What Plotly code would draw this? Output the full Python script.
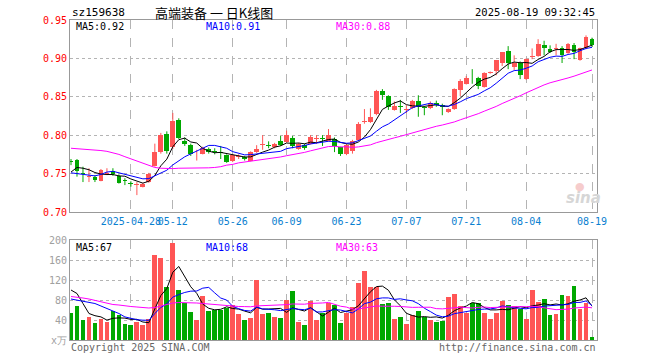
import plotly.graph_objects as go
import pandas as pd

# ---------------- data ----------------
dates = [
    "2025-04-14", "2025-04-15", "2025-04-16", "2025-04-17", "2025-04-18",
    "2025-04-21", "2025-04-22", "2025-04-23", "2025-04-24", "2025-04-25",
    "2025-04-28", "2025-04-29", "2025-04-30",
    "2025-05-06", "2025-05-07", "2025-05-08", "2025-05-09",
    "2025-05-12", "2025-05-13", "2025-05-14", "2025-05-15", "2025-05-16",
    "2025-05-19", "2025-05-20", "2025-05-21", "2025-05-22", "2025-05-23",
    "2025-05-26", "2025-05-27", "2025-05-28", "2025-05-29", "2025-05-30",
    "2025-06-03", "2025-06-04", "2025-06-05", "2025-06-06",
    "2025-06-09", "2025-06-10", "2025-06-11", "2025-06-12", "2025-06-13",
    "2025-06-16", "2025-06-17", "2025-06-18", "2025-06-19", "2025-06-20",
    "2025-06-23", "2025-06-24", "2025-06-25", "2025-06-26", "2025-06-27",
    "2025-06-30", "2025-07-01", "2025-07-02", "2025-07-03", "2025-07-04",
    "2025-07-07", "2025-07-08", "2025-07-09", "2025-07-10", "2025-07-11",
    "2025-07-14", "2025-07-15", "2025-07-16", "2025-07-17", "2025-07-18",
    "2025-07-21", "2025-07-22", "2025-07-23", "2025-07-24", "2025-07-25",
    "2025-07-28", "2025-07-29", "2025-07-30", "2025-07-31", "2025-08-01",
    "2025-08-04", "2025-08-05", "2025-08-06", "2025-08-07", "2025-08-08",
    "2025-08-11", "2025-08-12", "2025-08-13", "2025-08-14", "2025-08-15",
    "2025-08-18", "2025-08-19",
]

opens = [
    0.766, 0.768, 0.751, 0.745, 0.746, 0.740, 0.750, 0.754, 0.747, 0.741,
    0.738, 0.735, 0.733, 0.739, 0.760, 0.778, 0.802, 0.784, 0.820, 0.793,
    0.787, 0.771, 0.776, 0.782, 0.779, 0.778, 0.774, 0.767, 0.771, 0.772,
    0.767, 0.778, 0.787, 0.787, 0.784, 0.792, 0.791, 0.797, 0.782, 0.787,
    0.789, 0.795, 0.796, 0.793, 0.795, 0.784, 0.776, 0.780, 0.794, 0.817,
    0.817, 0.828, 0.858, 0.851, 0.833, 0.838, 0.833, 0.835, 0.844, 0.837,
    0.835, 0.842, 0.839, 0.830, 0.834, 0.859, 0.867, 0.875, 0.875, 0.863,
    0.881, 0.883, 0.894, 0.910, 0.889, 0.894, 0.873, 0.902, 0.903, 0.918,
    0.912, 0.912, 0.914, 0.907, 0.918, 0.898, 0.913, 0.925,
]
highs = [
    0.769, 0.769, 0.759, 0.757, 0.748, 0.756, 0.757, 0.757, 0.749, 0.744,
    0.740, 0.739, 0.738, 0.751, 0.789, 0.803, 0.805, 0.829, 0.822, 0.797,
    0.789, 0.781, 0.785, 0.784, 0.783, 0.786, 0.775, 0.775, 0.775, 0.773,
    0.779, 0.787, 0.800, 0.792, 0.790, 0.799, 0.806, 0.799, 0.790, 0.789,
    0.800, 0.800, 0.800, 0.808, 0.797, 0.785, 0.789, 0.794, 0.817, 0.834,
    0.835, 0.859, 0.860, 0.852, 0.844, 0.846, 0.839, 0.846, 0.852, 0.838,
    0.844, 0.845, 0.841, 0.835, 0.861, 0.873, 0.877, 0.886, 0.876, 0.882,
    0.883, 0.898, 0.908, 0.916, 0.904, 0.896, 0.900, 0.913, 0.925, 0.923,
    0.917, 0.919, 0.916, 0.920, 0.920, 0.914, 0.930, 0.927,
]
lows = [
    0.761, 0.746, 0.739, 0.739, 0.739, 0.740, 0.748, 0.747, 0.737, 0.735,
    0.733, 0.722, 0.732, 0.738, 0.759, 0.776, 0.776, 0.782, 0.795, 0.786,
    0.773, 0.767, 0.775, 0.776, 0.775, 0.769, 0.764, 0.765, 0.769, 0.767,
    0.766, 0.777, 0.781, 0.783, 0.783, 0.786, 0.790, 0.783, 0.781, 0.781,
    0.788, 0.789, 0.786, 0.792, 0.778, 0.773, 0.774, 0.776, 0.793, 0.815,
    0.816, 0.826, 0.846, 0.833, 0.832, 0.829, 0.829, 0.834, 0.824, 0.826,
    0.834, 0.837, 0.826, 0.829, 0.833, 0.851, 0.866, 0.867, 0.860, 0.862,
    0.880, 0.878, 0.890, 0.886, 0.885, 0.873, 0.872, 0.899, 0.902, 0.904,
    0.907, 0.904, 0.894, 0.906, 0.899, 0.897, 0.912, 0.915,
]
closes = [
    0.765, 0.754, 0.749, 0.747, 0.742, 0.755, 0.751, 0.749, 0.738, 0.740,
    0.737, 0.736, 0.737, 0.750, 0.778, 0.800, 0.779, 0.818, 0.796, 0.788,
    0.775, 0.772, 0.783, 0.778, 0.778, 0.777, 0.765, 0.774, 0.773, 0.769,
    0.778, 0.782, 0.788, 0.786, 0.788, 0.787, 0.800, 0.786, 0.788, 0.783,
    0.798, 0.796, 0.795, 0.800, 0.786, 0.776, 0.787, 0.792, 0.815, 0.818,
    0.824, 0.858, 0.853, 0.837, 0.838, 0.837, 0.834, 0.845, 0.837, 0.835,
    0.842, 0.839, 0.837, 0.834, 0.860, 0.871, 0.875, 0.874, 0.864, 0.881,
    0.882, 0.898, 0.908, 0.894, 0.894, 0.878, 0.899, 0.903, 0.919, 0.914,
    0.908, 0.913, 0.904, 0.919, 0.908, 0.913, 0.928, 0.918,
]
volumes = [
    55, 68, 40, 46, 34, 43, 36, 58, 50, 32,
    30, 37, 31, 43, 170, 164, 106, 195, 100, 75,
    56, 40, 88, 58, 60, 61, 65, 71, 52, 40,
    44, 120, 52, 54, 46, 44, 80, 98, 37, 31,
    78, 40, 54, 75, 71, 35, 55, 67, 115, 138,
    107, 107, 72, 74, 42, 47, 32, 50, 58, 47,
    40, 36, 38, 86, 92, 68, 55, 74, 74, 55,
    43, 55, 79, 70, 68, 62, 43, 100, 76, 82,
    50, 52, 90, 88, 108, 62, 74, 6,
]

# moving-average values before enough history exists
ma5_head = [0.752, 0.758, 0.757, 0.755]
ma10_head = [0.751, 0.750, 0.749, 0.748, 0.747, 0.749, 0.752, 0.753, 0.751]
ma30_head = [0.783, 0.7825, 0.782, 0.781, 0.7805, 0.780, 0.779, 0.777, 0.775, 0.772,
             0.769, 0.766, 0.763, 0.760, 0.758, 0.757, 0.7565, 0.7565, 0.757, 0.757,
             0.757, 0.757, 0.757, 0.7575, 0.758, 0.759, 0.761, 0.762, 0.764]
vma5_head = [100, 93, 73, 53]
vma10_head = [82, 80, 78, 76, 73, 68, 63, 58, 53]
vma30_head = [87, 86, 84, 82, 79, 76, 73, 71, 70, 68, 67, 66, 65, 64, 65, 68, 70, 74,
              75, 75, 74, 74, 73, 72, 71, 70, 68, 67, 67]

tick_dates = ["2025-04-28", "2025-05-12", "2025-05-26", "2025-06-09", "2025-06-23",
              "2025-07-07", "2025-07-21", "2025-08-04", "2025-08-19"]
tick_text = ["2025-04-28", "05-12", "05-26", "06-09", "06-23",
             "07-07", "07-21", "08-04", "08-19"]
price_ticks = [0.70, 0.75, 0.80, 0.85, 0.90, 0.95]
price_tick_text = ["0.70", "0.75", "0.80", "0.85", "0.90", "0.95"]
vol_ticks = [0, 40, 80, 120, 160, 200]
vol_tick_text = ["x万", "40", "80", "120", "160", "200"]

ma_labels_price = ["MA5:0.92", "MA10:0.91", "MA30:0.88"]
ma_labels_vol = ["MA5:67", "MA10:68", "MA30:63"]
title_text = "高端装备 一 日K线图"
code_text = "sz159638"
time_text = "2025-08-19 09:32:45"

# ---------------- derived ----------------
def moving(vals, n, head):
    s = pd.Series(vals, dtype=float).rolling(n).mean().tolist()
    for k, h in enumerate(head):
        s[k] = h
    return s

ma5 = moving(closes, 5, ma5_head)
ma10 = moving(closes, 10, ma10_head)
ma30 = moving(closes, 30, ma30_head)
vma5 = moving(volumes, 5, vma5_head)
vma10 = moving(volumes, 10, vma10_head)
vma30 = moving(volumes, 30, vma30_head)

RED = "#ff5555"
GREEN = "#00a800"
up = [c >= o for o, c in zip(opens, closes)]
colors = [RED if u else GREEN for u in up]
body_base = [min(o, c) for o, c in zip(opens, closes)]
body_h = [max(abs(c - o), 0.0011) for o, c in zip(opens, closes)]

def wicks(flag):
    xs, ys = [], []
    for d, h, l, u in zip(dates, highs, lows, up):
        if u == flag:
            xs += [d, d, None]
            ys += [l, h, None]
    return xs, ys

fig = go.Figure()
for flag, col in [(True, RED), (False, GREEN)]:
    wx, wy = wicks(flag)
    fig.add_trace(go.Scatter(x=wx, y=wy, mode="lines", line=dict(color=col, width=1),
                             xaxis="x", yaxis="y", hoverinfo="skip"))
fig.add_trace(go.Bar(x=dates, y=body_h, base=body_base, marker=dict(color=colors, line=dict(width=0)),
                     width=0.8, xaxis="x", yaxis="y"))
for ser, col in [(ma5, "#000000"), (ma10, "#0000ff"), (ma30, "#ff00ff")]:
    fig.add_trace(go.Scatter(x=dates, y=ser, mode="lines", line=dict(color=col, width=1),
                             xaxis="x", yaxis="y", hoverinfo="skip"))

fig.add_trace(go.Bar(x=dates, y=volumes, marker=dict(color=colors, line=dict(width=0)),
                     width=0.8, xaxis="x2", yaxis="y2"))
for ser, col in [(vma5, "#000000"), (vma10, "#0000ff"), (vma30, "#ff00ff")]:
    fig.add_trace(go.Scatter(x=dates, y=ser, mode="lines", line=dict(color=col, width=1),
                             xaxis="x2", yaxis="y2", hoverinfo="skip"))

# ---------------- layout ----------------
L, R, T, B = 70, 597, 20, 340
W, H = 660, 360
def px(x):
    return (x - L) / (R - L)
def py(y):
    return (B - y) / (B - T)

MONO = "DejaVu Sans Mono"
step = (R - L) / 88.0
xr = [-(71 - L) / step, -(71 - L) / step + 88.0]
FRAME = "#999999"
GRID = "#b4b4b4"

common_x = dict(type="category", categoryorder="array", categoryarray=dates, range=xr,
                tickvals=tick_dates, showgrid=True, griddash="dash", gridcolor=GRID, gridwidth=1,
                showline=True, mirror=True, linecolor=FRAME, linewidth=1, ticks="",
                zeroline=False, fixedrange=True)

fig.update_layout(
    width=W, height=H,
    margin=dict(l=L, r=W - R, t=T, b=H - B, autoexpand=False),
    paper_bgcolor="white", plot_bgcolor="white",
    showlegend=False, barmode="overlay", bargap=0,
    font=dict(family=MONO, size=10, color="#000"),
    xaxis=dict(common_x, anchor="y", ticktext=tick_text, tickangle=0,
               tickfont=dict(family=MONO, size=10, color="#0a80d0")),
    xaxis2=dict(common_x, anchor="y2", showticklabels=False, matches="x"),
    yaxis=dict(domain=[py(212), 1.0], range=[0.70, 0.95], tickvals=price_ticks,
               ticktext=price_tick_text, tickfont=dict(family=MONO, size=10, color="#ff0000"),
               showgrid=True, griddash="dot", gridcolor=GRID, showline=True, mirror=True,
               linecolor=FRAME, linewidth=1, ticks="", zeroline=False, fixedrange=True),
    yaxis2=dict(domain=[0.0, py(240)], range=[0, 200], tickvals=vol_ticks,
                ticktext=vol_tick_text, tickfont=dict(family=MONO, size=10, color="#a0a0a0"),
                showgrid=True, griddash="dot", gridcolor=GRID, showline=True, mirror=True,
                linecolor=FRAME, linewidth=1, ticks="", zeroline=False, fixedrange=True),
)

ann = []
def text(s, x, y, color="#000", size=10, xa="left", family=MONO, **kw):
    ann.append(dict(text=s, x=px(x), y=py(y), xref="paper", yref="paper", showarrow=False,
                    xanchor=xa, yanchor="middle", font=dict(family=family, size=size, color=color), **kw))

text(code_text, 70, 12, size=11)
text(title_text, 214, 12, size=13, xa="center", family="Noto Sans CJK SC")
text(time_text, 597, 12, size=10.5, xa="right")
ma_cols = ["#000000", "#0000ff", "#ff00ff"]
for lab, col, x in zip(ma_labels_price, ma_cols, [74, 204, 334]):
    text(lab, x, 27, color=col)
for lab, col, x in zip(ma_labels_vol, ma_cols, [74, 204, 334]):
    text(lab, x, 247, color=col)
text("Copyright 2025 SINA.COM", 69, 347, color="#666666")
text("http://finance.sina.com.cn", 598, 347, color="#666666", xa="right")
ann.append(dict(text="<b><i>sina</i></b>", x=px(583), y=py(198), xref="paper", yref="paper",
                showarrow=False, xanchor="center", yanchor="middle",
                font=dict(family="DejaVu Sans", size=15, color="#d6d6d6")))
ann.append(dict(text="●", x=px(580), y=py(186), xref="paper", yref="paper",
                showarrow=False, xanchor="center", yanchor="middle",
                font=dict(family="DejaVu Sans", size=11, color="#f6cccc")))
fig.update_layout(annotations=ann)

fig.write_html("out.html",
               config={"displayModeBar": False, "staticPlot": True},
               post_script="document.body.style.margin='0';document.body.style.padding='0';"
                           "document.body.style.overflow='hidden';")
